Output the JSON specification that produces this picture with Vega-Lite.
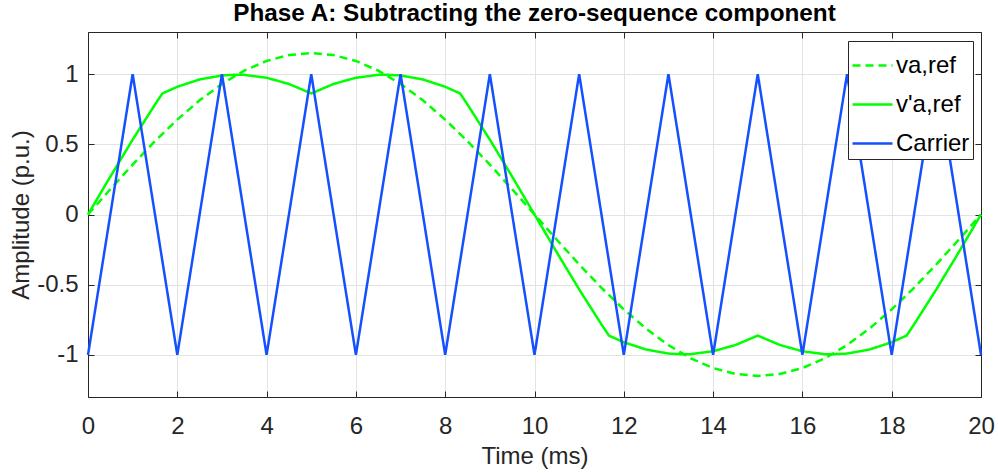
{
  "$schema": "https://vega.github.io/schema/vega-lite/v6.json",
  "width": 893,
  "height": 365,
  "autosize": "none",
  "padding": {"left": 88, "top": 32, "right": 17, "bottom": 76},
  "background": "white",
  "config": {
    "font": "Liberation Sans",
    "view": {"stroke": null},
    "axis": {
      "labelFont": "Liberation Sans",
      "titleFont": "Liberation Sans",
      "labelFontSize": 24,
      "titleFontSize": 24,
      "labelColor": "#262626",
      "titleColor": "#262626",
      "titleFontWeight": "normal",
      "domainColor": "#262626",
      "tickColor": "#262626",
      "gridColor": "#e3e3e3",
      "gridWidth": 1,
      "tickSize": -6,
      "domainWidth": 1,
      "labelFlush": false
    }
  },
  "title": {
    "text": "Phase A: Subtracting the zero-sequence component",
    "font": "Liberation Sans",
    "fontSize": 24.3,
    "fontWeight": "bold",
    "color": "black",
    "anchor": "middle",
    "baseline": "alphabetic",
    "offset": -14
  },
  "data": {
    "values": [
      {"t": 0, "v": 0, "s": "va,ref"},
      {"t": 0.5, "v": 0.1799, "s": "va,ref"},
      {"t": 1, "v": 0.3554, "s": "va,ref"},
      {"t": 1.5, "v": 0.5221, "s": "va,ref"},
      {"t": 2, "v": 0.676, "s": "va,ref"},
      {"t": 2.5, "v": 0.8132, "s": "va,ref"},
      {"t": 3, "v": 0.9304, "s": "va,ref"},
      {"t": 3.5, "v": 1.0247, "s": "va,ref"},
      {"t": 4, "v": 1.0937, "s": "va,ref"},
      {"t": 4.5, "v": 1.1358, "s": "va,ref"},
      {"t": 5, "v": 1.15, "s": "va,ref"},
      {"t": 5.5, "v": 1.1358, "s": "va,ref"},
      {"t": 6, "v": 1.0937, "s": "va,ref"},
      {"t": 6.5, "v": 1.0247, "s": "va,ref"},
      {"t": 7, "v": 0.9304, "s": "va,ref"},
      {"t": 7.5, "v": 0.8132, "s": "va,ref"},
      {"t": 8, "v": 0.676, "s": "va,ref"},
      {"t": 8.5, "v": 0.5221, "s": "va,ref"},
      {"t": 9, "v": 0.3554, "s": "va,ref"},
      {"t": 9.5, "v": 0.1799, "s": "va,ref"},
      {"t": 10, "v": 0, "s": "va,ref"},
      {"t": 10.5, "v": -0.1799, "s": "va,ref"},
      {"t": 11, "v": -0.3554, "s": "va,ref"},
      {"t": 11.5, "v": -0.5221, "s": "va,ref"},
      {"t": 12, "v": -0.676, "s": "va,ref"},
      {"t": 12.5, "v": -0.8132, "s": "va,ref"},
      {"t": 13, "v": -0.9304, "s": "va,ref"},
      {"t": 13.5, "v": -1.0247, "s": "va,ref"},
      {"t": 14, "v": -1.0937, "s": "va,ref"},
      {"t": 14.5, "v": -1.1358, "s": "va,ref"},
      {"t": 15, "v": -1.15, "s": "va,ref"},
      {"t": 15.5, "v": -1.1358, "s": "va,ref"},
      {"t": 16, "v": -1.0937, "s": "va,ref"},
      {"t": 16.5, "v": -1.0247, "s": "va,ref"},
      {"t": 17, "v": -0.9304, "s": "va,ref"},
      {"t": 17.5, "v": -0.8132, "s": "va,ref"},
      {"t": 18, "v": -0.676, "s": "va,ref"},
      {"t": 18.5, "v": -0.5221, "s": "va,ref"},
      {"t": 19, "v": -0.3554, "s": "va,ref"},
      {"t": 19.5, "v": -0.1799, "s": "va,ref"},
      {"t": 20, "v": 0, "s": "va,ref"},

      {"t": 0, "v": 0, "s": "v'a,ref"},
      {"t": 0.5, "v": 0.2699, "s": "v'a,ref"},
      {"t": 1, "v": 0.5331, "s": "v'a,ref"},
      {"t": 1.5, "v": 0.7832, "s": "v'a,ref"},
      {"t": 1.667, "v": 0.8625, "s": "v'a,ref"},
      {"t": 2, "v": 0.9098, "s": "v'a,ref"},
      {"t": 2.5, "v": 0.962, "s": "v'a,ref"},
      {"t": 3, "v": 0.9905, "s": "v'a,ref"},
      {"t": 3.333, "v": 0.9959, "s": "v'a,ref"},
      {"t": 3.5, "v": 0.9946, "s": "v'a,ref"},
      {"t": 4, "v": 0.9742, "s": "v'a,ref"},
      {"t": 4.5, "v": 0.9298, "s": "v'a,ref"},
      {"t": 5, "v": 0.8625, "s": "v'a,ref"},
      {"t": 5.5, "v": 0.9298, "s": "v'a,ref"},
      {"t": 6, "v": 0.9742, "s": "v'a,ref"},
      {"t": 6.5, "v": 0.9946, "s": "v'a,ref"},
      {"t": 6.667, "v": 0.9959, "s": "v'a,ref"},
      {"t": 7, "v": 0.9905, "s": "v'a,ref"},
      {"t": 7.5, "v": 0.962, "s": "v'a,ref"},
      {"t": 8, "v": 0.9098, "s": "v'a,ref"},
      {"t": 8.333, "v": 0.8625, "s": "v'a,ref"},
      {"t": 8.5, "v": 0.7832, "s": "v'a,ref"},
      {"t": 9, "v": 0.5331, "s": "v'a,ref"},
      {"t": 9.5, "v": 0.2699, "s": "v'a,ref"},
      {"t": 10, "v": 0, "s": "v'a,ref"},
      {"t": 10.5, "v": -0.2699, "s": "v'a,ref"},
      {"t": 11, "v": -0.5331, "s": "v'a,ref"},
      {"t": 11.5, "v": -0.7832, "s": "v'a,ref"},
      {"t": 11.667, "v": -0.8625, "s": "v'a,ref"},
      {"t": 12, "v": -0.9098, "s": "v'a,ref"},
      {"t": 12.5, "v": -0.962, "s": "v'a,ref"},
      {"t": 13, "v": -0.9905, "s": "v'a,ref"},
      {"t": 13.333, "v": -0.9959, "s": "v'a,ref"},
      {"t": 13.5, "v": -0.9946, "s": "v'a,ref"},
      {"t": 14, "v": -0.9742, "s": "v'a,ref"},
      {"t": 14.5, "v": -0.9298, "s": "v'a,ref"},
      {"t": 15, "v": -0.8625, "s": "v'a,ref"},
      {"t": 15.5, "v": -0.9298, "s": "v'a,ref"},
      {"t": 16, "v": -0.9742, "s": "v'a,ref"},
      {"t": 16.5, "v": -0.9946, "s": "v'a,ref"},
      {"t": 16.667, "v": -0.9959, "s": "v'a,ref"},
      {"t": 17, "v": -0.9905, "s": "v'a,ref"},
      {"t": 17.5, "v": -0.962, "s": "v'a,ref"},
      {"t": 18, "v": -0.9098, "s": "v'a,ref"},
      {"t": 18.333, "v": -0.8625, "s": "v'a,ref"},
      {"t": 18.5, "v": -0.7832, "s": "v'a,ref"},
      {"t": 19, "v": -0.5331, "s": "v'a,ref"},
      {"t": 19.5, "v": -0.2699, "s": "v'a,ref"},
      {"t": 20, "v": 0, "s": "v'a,ref"},

      {"t": 0, "v": -1, "s": "Carrier"},
      {"t": 1, "v": 1, "s": "Carrier"},
      {"t": 2, "v": -1, "s": "Carrier"},
      {"t": 3, "v": 1, "s": "Carrier"},
      {"t": 4, "v": -1, "s": "Carrier"},
      {"t": 5, "v": 1, "s": "Carrier"},
      {"t": 6, "v": -1, "s": "Carrier"},
      {"t": 7, "v": 1, "s": "Carrier"},
      {"t": 8, "v": -1, "s": "Carrier"},
      {"t": 9, "v": 1, "s": "Carrier"},
      {"t": 10, "v": -1, "s": "Carrier"},
      {"t": 11, "v": 1, "s": "Carrier"},
      {"t": 12, "v": -1, "s": "Carrier"},
      {"t": 13, "v": 1, "s": "Carrier"},
      {"t": 14, "v": -1, "s": "Carrier"},
      {"t": 15, "v": 1, "s": "Carrier"},
      {"t": 16, "v": -1, "s": "Carrier"},
      {"t": 17, "v": 1, "s": "Carrier"},
      {"t": 18, "v": -1, "s": "Carrier"},
      {"t": 19, "v": 1, "s": "Carrier"},
      {"t": 20, "v": -1, "s": "Carrier"}
    ]
  },
  "encoding": {
    "color": {
      "field": "s",
      "type": "nominal",
      "scale": {"domain": ["va,ref", "v'a,ref", "Carrier"], "range": ["#00ff00", "#00ff00", "#1450ff"]},
      "legend": {
        "title": null,
        "orient": "none",
        "legendX": 760,
        "legendY": 9,
        "fillColor": "white",
        "strokeColor": "#262626",
        "padding": 3,
        "symbolType": "stroke",
        "symbolSize": 1600,
        "symbolStrokeWidth": 2.5,
        "labelFont": "Liberation Sans",
        "labelFontSize": 24,
        "labelColor": "black",
        "labelOffset": 2,
        "rowPadding": 5,
        "labelLimit": 200
      }
    },
    "strokeDash": {
      "field": "s",
      "type": "nominal",
      "scale": {"domain": ["va,ref", "v'a,ref", "Carrier"], "range": [[8, 5], [1, 0], [1, 0]]},
      "legend": {
        "title": null,
        "orient": "none",
        "legendX": 760,
        "legendY": 9,
        "fillColor": "white",
        "strokeColor": "#262626",
        "padding": 3,
        "symbolType": "stroke",
        "symbolSize": 1600,
        "symbolStrokeWidth": 2.5,
        "labelFont": "Liberation Sans",
        "labelFontSize": 24,
        "labelColor": "black",
        "labelOffset": 2,
        "rowPadding": 5,
        "labelLimit": 200
      }
    }
  },
  "layer": [
    {
      "transform": [{"filter": "datum.s == 'va,ref'"}],
      "mark": {"type": "line", "strokeWidth": 2.5},
      "encoding": {
        "x": {
          "field": "t", "type": "quantitative",
          "scale": {"domain": [0, 20], "nice": false, "zero": false},
          "axis": {"orient": "bottom", "values": [0, 2, 4, 6, 8, 10, 12, 14, 16, 18, 20], "title": "Time (ms)", "grid": true, "labelPadding": 23, "titlePadding": 6}
        },
        "y": {
          "field": "v", "type": "quantitative",
          "scale": {"domain": [-1.3, 1.3], "nice": false, "zero": false},
          "axis": {"orient": "left", "values": [-1, -0.5, 0, 0.5, 1], "labelExpr": "toString(datum.value)", "title": "Amplitude (p.u.)", "grid": true, "labelPadding": 16, "titlePadding": 3}
        }
      }
    },
    {
      "transform": [{"filter": "datum.s == \"v'a,ref\""}],
      "mark": {"type": "line", "strokeWidth": 2.5},
      "encoding": {
        "x": {
          "field": "t", "type": "quantitative",
          "axis": {"orient": "top", "values": [0, 2, 4, 6, 8, 10, 12, 14, 16, 18, 20], "labels": false, "title": null, "grid": false}
        },
        "y": {
          "field": "v", "type": "quantitative",
          "axis": {"orient": "right", "values": [-1, -0.5, 0, 0.5, 1], "labels": false, "title": null, "grid": false}
        }
      }
    },
    {
      "transform": [{"filter": "datum.s == 'Carrier'"}],
      "mark": {"type": "line", "strokeWidth": 2.5},
      "encoding": {
        "x": {"field": "t", "type": "quantitative", "axis": null},
        "y": {"field": "v", "type": "quantitative", "axis": null}
      }
    }
  ]
}
